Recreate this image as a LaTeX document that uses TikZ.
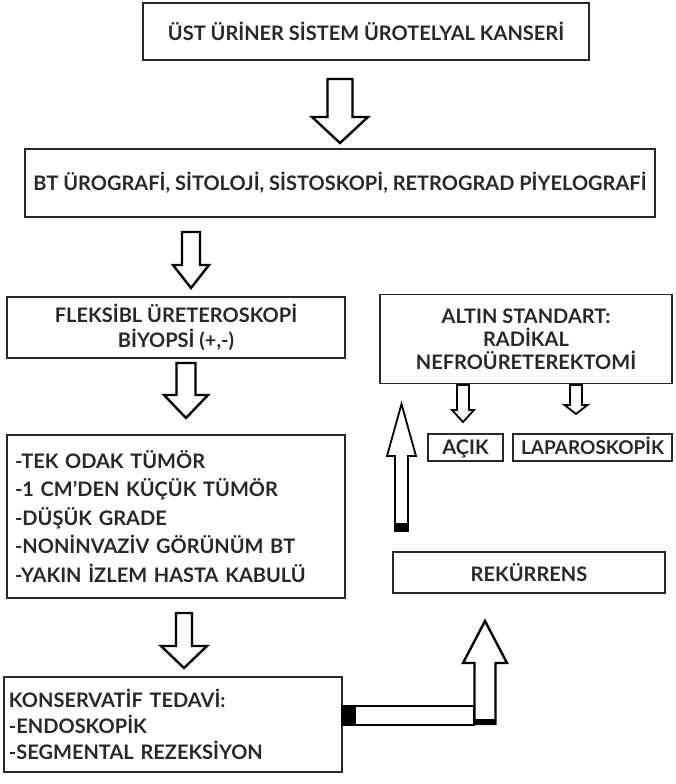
\documentclass[tikz,border=0pt]{standalone}
\usepackage{fontspec}
\setmainfont{Lato}
\usepackage{tikz}
\usetikzlibrary{positioning,calc}
\definecolor{boxcol}{RGB}{40,40,40}

% block arrow pointing down: [style] top, tip, shaft half width, head half width, head length
\newcommand{\fatdown}[6][fat]{%
  \draw[#1] let \p1=(#2), \p2=(#3) in
    (\x1-#4pt,\y1) -- (\x1-#4pt,\y2+#6pt) -- (\x1-#5pt,\y2+#6pt) -- (\x2,\y2)
    -- (\x1+#5pt,\y2+#6pt) -- (\x1+#4pt,\y2+#6pt) -- (\x1+#4pt,\y1) -- cycle;}
% block arrow pointing up: [style] bottom, tip, shaft half width, head half width, head length
\newcommand{\fatup}[6][fat]{%
  \draw[#1] let \p1=(#2), \p2=(#3) in
    (\x1-#4pt,\y1) -- (\x1-#4pt,\y2-#6pt) -- (\x1-#5pt,\y2-#6pt) -- (\x2,\y2)
    -- (\x1+#5pt,\y2-#6pt) -- (\x1+#4pt,\y2-#6pt) -- (\x1+#4pt,\y1) -- cycle;}

\begin{document}
\begin{tikzpicture}[x=1pt, y=-1pt,
  box/.style={rectangle, draw=boxcol, line width=1.2pt, inner sep=0pt,
              font=\bfseries\fontsize{20}{23}\selectfont, text=boxcol, align=center},
  smallbox/.style={box, minimum height=27pt, text height=14.5pt, text depth=0pt},
  listbox/.style={box, align=left, inner xsep=#1, inner ysep=0pt},
  fat/.style={draw=black, line width=2.4pt, fill=white, line join=miter},
  thinfat/.style={fat, line width=1.8pt}
]
\useasboundingbox (0,0) rectangle (675,784);

\node[box, minimum width=446pt, minimum height=57pt] (ust) at (366,31.5)
  {ÜST ÜRİNER SİSTEM ÜROTELYAL KANSERİ};
\node[box, minimum width=630pt, minimum height=68pt] (bt) at (340,183)
  {BT ÜROGRAFİ, SİTOLOJİ, SİSTOSKOPİ, RETROGRAD PİYELOGRAFİ};
\node[box, minimum width=338pt, minimum height=61pt,
      font=\bfseries\fontsize{20}{25}\selectfont] (fleks) at (176,327.5)
  {FLEKSİBL ÜRETEROSKOPİ\\BİYOPSİ (+,-)};
\node[box, minimum width=292pt, minimum height=89pt] (altin) at (526,339)
  {ALTIN STANDART:\\RADİKAL\\NEFROÜRETEREKTOMİ};
\node[smallbox, minimum width=75pt] (acik) at (465.5,447.5) {AÇIK};
\node[smallbox, minimum width=159pt, font=\bfseries\fontsize{19}{23}\selectfont]
  (lap) at (592.5,447.5) {LAPAROSKOPİK};
\node[listbox=8pt, text width=322pt, minimum height=163pt,
      font=\bfseries\fontsize{20}{28.5}\selectfont] (liste) at (176,516.5)
  {-TEK ODAK TÜMÖR\\-1 CM’DEN KÜÇÜK TÜMÖR\\-DÜŞÜK GRADE\\-NONİNVAZİV GÖRÜNÜM BT\\-YAKIN İZLEM HASTA KABULÜ};
\node[box, minimum width=272pt, minimum height=41pt] (rek) at (529,572.5) {REKÜRRENS};
\node[listbox=5pt, text width=328pt, minimum height=95pt,
      font=\bfseries\fontsize{20}{26}\selectfont] (kons) at (173,724.5)
  {KONSERVATİF TEDAVİ:\\-ENDOSKOPİK\\-SEGMENTAL REZEKSİYON};

% arrow ends
\coordinate (a1s) at (340,79);    \coordinate (a1e) at (340,143);
\coordinate (a2s) at (191,232);   \coordinate (a2e) at (191,288);
\coordinate (a3s) at (186,363);   \coordinate (a3e) at (186,418);
\coordinate (a4s) at (184,613);   \coordinate (a4e) at (184,668);
\coordinate (a5s) at (463,385);   \coordinate (a5e) at (463,422);
\coordinate (a6s) at (576,385);   \coordinate (a6e) at (576,414);
\coordinate (a7s) at (401.5,531); \coordinate (a7e) at (401.5,404);
\coordinate (a8s) at (485,724);   \coordinate (a8e) at (485,621);

\fatdown{a1s}{a1e}{12.5}{28}{26}
\fatdown{a2s}{a2e}{9}{18}{23}
\fatdown{a3s}{a3e}{9.5}{22}{23}
\fatdown{a4s}{a4e}{8}{23}{22}
\fatdown[thinfat]{a5s}{a5e}{6}{11}{12}
\fatdown[thinfat]{a6s}{a6e}{6}{11.5}{9}
\fatup[thinfat]{a7s}{a7e}{6.5}{14.5}{52}
\fill[black] ($(a7s)+(-6.5,0)$) rectangle ($(a7s)+(6.5,-8)$);

% bar from konservatif to the up arrow
\draw[fat, line width=2.6pt] (kons.east |- 0,706) rectangle (474,725);
\fill[black] (kons.east |- 0,705) rectangle (356,726);
\fatup{a8s}{a8e}{10.5}{22}{42}
\fill[black] ($(a8s)+(-10.5,0)$) rectangle ($(a8s)+(10.5,-5)$);

\end{tikzpicture}
\end{document}
